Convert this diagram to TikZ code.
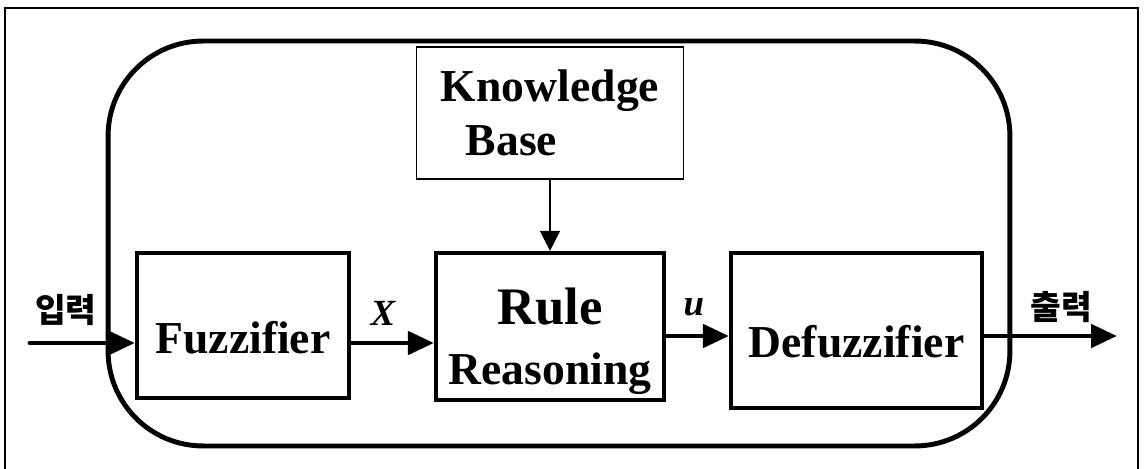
\documentclass[tikz,border=0pt]{standalone}
\usepackage{fontspec}
\setmainfont{Liberation Serif}
\newfontfamily\krfont{Noto Sans CJK KR}
\usetikzlibrary{arrows.meta, positioning}

\begin{document}
\begin{tikzpicture}[
  x=0.02cm, y=-0.02cm,
  every node/.style={font=\bfseries\fontsize{26}{31}\selectfont},
  block/.style={draw, line width=2.4pt, inner sep=0pt},
  kbbox/.style={draw, line width=0.9pt, minimum width=5.34cm, minimum height=2.64cm, align=left},
  sysbox/.style={draw, line width=2.8pt, rounded corners=1.9cm, minimum width=18.04cm, minimum height=8.1cm},
  arrow/.style={-{Triangle[length=0.52cm,width=0.46cm]}, line width=2.8pt, line cap=round},
  thinarrow/.style={-{Triangle[length=0.4cm,width=0.4cm]}, line width=0.9pt},
  sig/.style={font=\bfseries\itshape\fontsize{21}{24}\selectfont},
  io/.style={font=\krfont\bfseries\fontsize{19}{21}\selectfont}
]
\useasboundingbox (0,0) rectangle (1146,469);

% Outer frame
\draw[line width=1.1pt] (5,480) -- (5,8) -- (1138,8) -- (1138,480);

% System boundary
\node[sysbox] (system) at (559,243.5) {};

% Blocks
\node[block, minimum width=4.24cm, minimum height=2.9cm] (fuzz) at (243,325.5) {};
\node[block, minimum width=4.56cm, minimum height=2.94cm] (rule) at (550,326.5) {};
\node[block, minimum width=5.02cm, minimum height=3.1cm] (defuzz) at (856.5,330.5) {};
\node[kbbox, above=1.42cm of rule] (kb) {Knowledge\\\hspace{0.5cm}Base};

\node (fuzzlbl) at ([yshift=-0.24cm]fuzz.center) {Fuzzifier};
\node[align=center] (rulelbl) at ([yshift=-0.3cm]rule.center)
  {{\fontsize{30}{28}\selectfont Rule}\\[3pt]Reasoning};
\node (defuzzlbl) at ([yshift=-0.22cm]defuzz.center) {Defuzzifier};

% Signals
\coordinate (in) at (30,343);
\coordinate (out) at (1117,336);
\node[io] (inlbl) at (66,310) {입력};
\node[io] (outlbl) at (1061,307) {출력};
\node[sig] (xlbl) at (383,313) {X};
\node[sig] (ulbl) at (694,307) {u};

% Arrows
\draw[arrow] (in) -- (in -| fuzz.west);
\draw[arrow] (fuzz.east |- in) -- (rule.west |- in);
\draw[arrow] (rule.east |- out) -- (defuzz.west |- out);
\draw[arrow] (defuzz.east |- out) -- (out);
\draw[thinarrow] (kb) -- (rule);
\end{tikzpicture}
\end{document}
